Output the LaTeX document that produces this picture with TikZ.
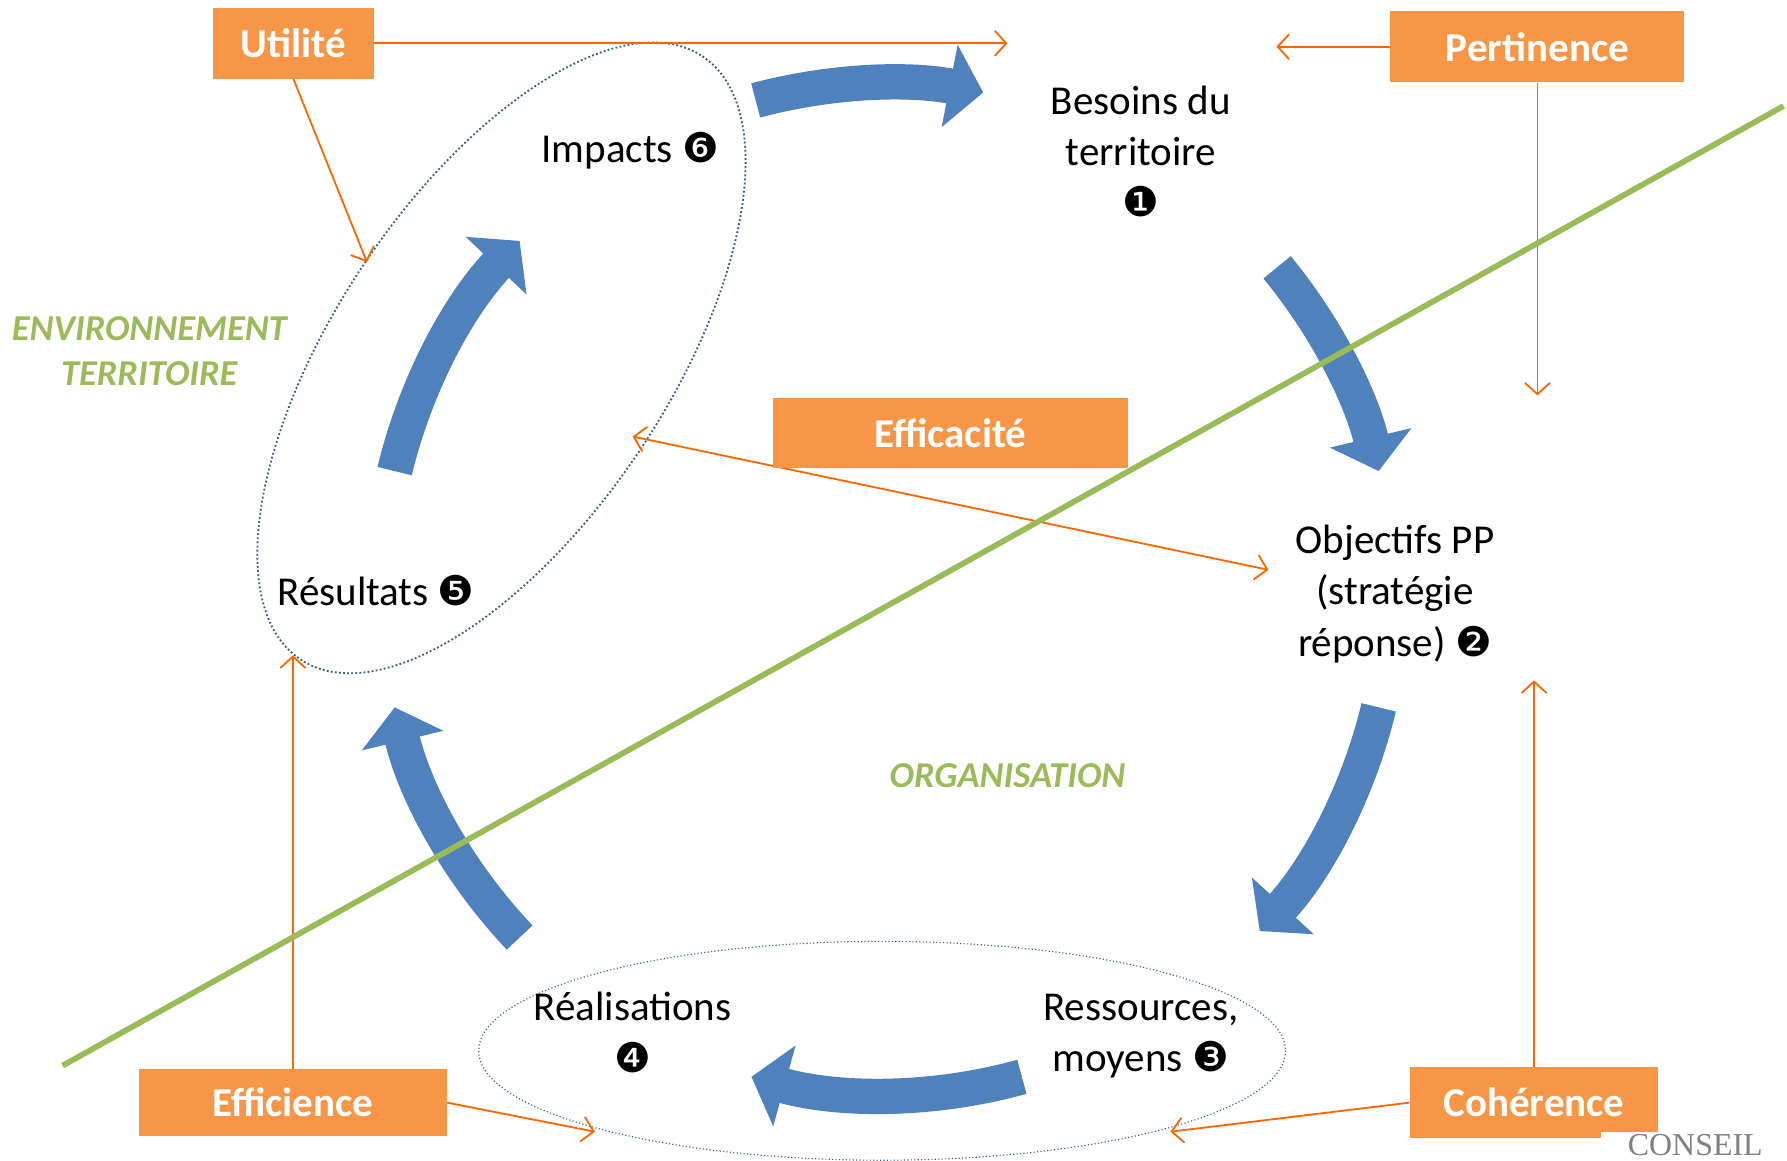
\documentclass[tikz,border=0pt]{standalone}
\usepackage{fontspec}
\setmainfont{Carlito}
\newfontfamily\dingfont{DejaVu Sans}
\newfontfamily\logofont{Liberation Serif}
\usetikzlibrary{arrows.meta}

\definecolor{boxorange}{RGB}{247,150,70}
\definecolor{lineorange}{RGB}{255,102,0}
\definecolor{arrowblue}{RGB}{79,129,189}
\definecolor{splitgreen}{RGB}{155,187,89}
\definecolor{ovalblue}{RGB}{56,93,138}

\begin{document}
\begin{tikzpicture}[x=0.5pt, y=-0.5pt,
    critere/.style={rectangle, fill=boxorange, text=white, inner sep=0pt,
        minimum height=31pt, font=\fontsize{18}{22}\selectfont\bfseries},
    etape/.style={align=center, font=\fontsize{18}{22.5}\selectfont},
    zone/.style={align=center, text=splitgreen, font=\fontsize{16}{19.5}\selectfont\bfseries\itshape},
    lien/.style={lineorange, line width=0.8pt, >={Straight Barb[length=5pt, width=11pt]}},
    boucle/.style={arrowblue, line width=15.5pt, -{Triangle[length=15pt, width=36pt]}},
    oval/.style={ovalblue, densely dotted, line width=0.8pt}]
            \useasboundingbox (0,0) rectangle (1568,1018);

            % Dotted ovals
            \draw[oval, rotate around={56.3:(440,314)}] (440,314) ellipse [x radius=318, y radius=146];
            \draw[oval, line width=0.5pt] (774,922) ellipse [x radius=354, y radius=96];

            % Efficacite link, under its box
            \coordinate (e1) at (555,383);
            \coordinate (e2) at (1113,500);
            \draw[lien, <->] (e1) -- (e2);

            % Define criteria
            \node[critere, minimum width=70.5pt] (Util) at (257.5,38) {Utilité};
            \node[critere, minimum width=129pt] (Pert) at (1349,41) {Pertinence};
            \node[critere, minimum width=156pt] (Effa) at (834,380) {Efficacité};
            \node[critere, minimum width=135pt, minimum height=29.5pt] (Effi) at (257,967.5) {Efficience};
            \node[critere, minimum width=109pt] (Coh) at (1346,967.5) {Cohérence};

            % Define stages
            \node[etape] (B1) at (1001,133) {Besoins du\\territoire\\{\dingfont ❶}};
            \node[etape] (O2) at (1224,521) {Objectifs PP\\(stratégie\\réponse) {\dingfont ❷}};
            \node[etape] (R3) at (1001,909) {Ressources,\\moyens {\dingfont ❸}};
            \node[etape] (R4) at (555,906) {Réalisations\\{\dingfont ❹}};
            \node[etape] (R5) at (330,518) {Résultats {\dingfont ❺}};
            \node[etape] (I6) at (553,132) {Impacts {\dingfont ❻}};

            % Zones
            \node[zone] (env) at (131,308) {ENVIRONNEMENT\\TERRITOIRE};
            \node[zone] (org) at (884,681) {ORGANISATION};

            % Free ends of the links
            \coordinate (u1) at (884,38);
            \coordinate (u2) at (322,230);
            \coordinate (p1) at (1120,41);
            \coordinate (p2) at (1349,347);
            \coordinate (f1) at (257,575);
            \coordinate (f2) at (522,993);
            \coordinate (c1) at (1346,597);
            \coordinate (c2) at (1027,993);

            % Draw links with arrows
            \draw[lien, ->] (Util.east) -- (u1);
            \draw[lien, ->] (Util.south) -- (u2);
            \draw[lien, ->] (Pert.west) -- (p1);
            \draw[lien, ->] (Pert.south) -- (p2);
            \draw[lien, ->] (Effi.north) -- (f1);
            \draw[lien, ->] (Effi.east) -- (f2);
            \draw[lien, ->] (Coh.north) -- (c1);
            \draw[lien, ->] (Coh.west) -- (c2);

            % Cycle arrows
            \draw[boucle] (778,517) ++(-105:444) arc[start angle=-105, end angle=-79, radius=444];
            \draw[boucle] (778,517) ++(-39.5:444) arc[start angle=-39.5, end angle=-13.5, radius=444];
            \draw[boucle] (778,517) ++(13.5:444) arc[start angle=13.5, end angle=42.5, radius=444];
            \draw[boucle] (778,517) ++(74.5:444) arc[start angle=74.5, end angle=105.5, radius=444];
            \draw[boucle] (778,517) ++(136.5:444) arc[start angle=136.5, end angle=166.5, radius=444];
            \draw[boucle] (778,517) ++(193.5:444) arc[start angle=193.5, end angle=223.5, radius=444];

            % Separation line
            \draw[splitgreen, line width=2.5pt] (55,935) -- (1565,93);

            % Logo
            \node[fill=white, text=gray, anchor=north west, inner xsep=12pt, inner ysep=1pt,
                font=\logofont\fontsize{14}{14}\selectfont] (logo) at (1404,993) {CONSEIL};
        \end{tikzpicture}
\end{document}
